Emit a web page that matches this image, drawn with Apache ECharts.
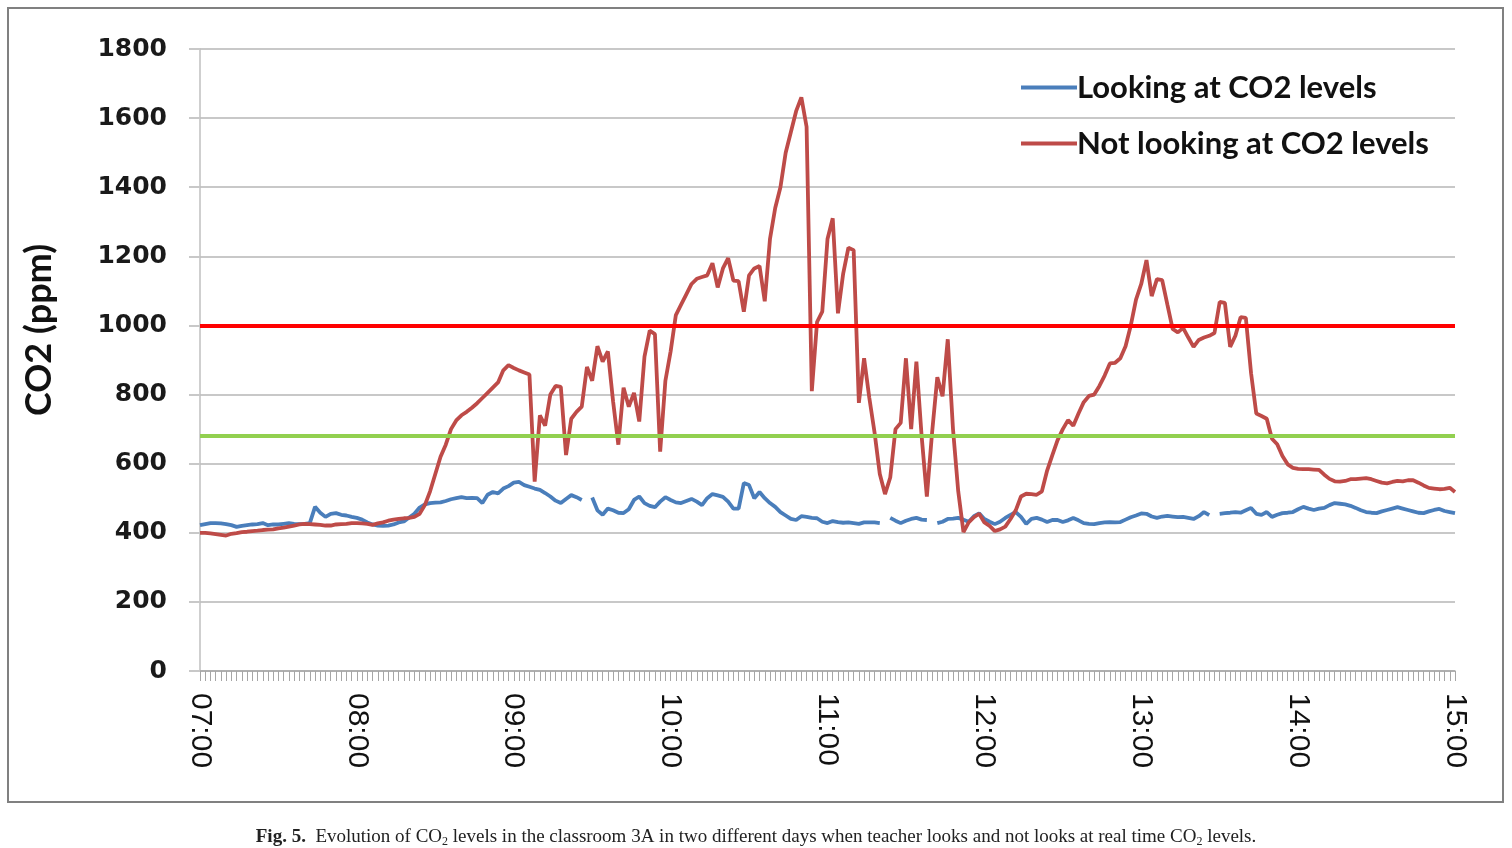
<!DOCTYPE html>
<html>
<head>
<meta charset="utf-8">
<script src="https://cdn.jsdelivr.net/npm/echarts@6/dist/echarts.min.js"></script>
<style>
html,body{margin:0;padding:0;background:#fff;}
#chart{width:1512px;height:848px;}
</style>
</head>
<body>
<div id="chart"></div>
<script>
// ---- data ----
const startTime = '07:00';
const endTime = '15:00';
const stepMinutes = 2;
const yTicks = [0, 200, 400, 600, 800, 1000, 1200, 1400, 1600, 1800];
const seriesNames = ['Looking at CO2 levels', 'Not looking at CO2 levels'];
const limitHigh = 1000;
const limitLow = 680;

const looking = [
422,425,428,428,427,425,422,417,420,422,
424,425,428,422,424,424,426,428,426,425,
426,428,475,458,446,455,457,452,450,446,
443,438,430,424,421,420,421,424,430,433,
444,455,473,482,486,487,488,492,497,500,
503,500,501,500,486,510,518,514,528,535,
545,547,538,533,528,524,515,505,493,486,
498,509,503,495,null,502,465,452,470,465,
458,457,468,495,505,486,478,474,490,503,
495,488,486,492,498,490,480,500,512,508,
504,490,470,470,544,538,500,518,500,486,
475,460,450,440,437,448,446,443,442,432,
428,434,431,429,430,428,426,430,430,430,
428,null,443,435,428,435,440,443,438,437,
null,428,432,440,441,443,438,432,448,456,
440,432,425,432,443,452,460,446,426,440,
443,438,431,437,437,431,436,443,436,428,
426,425,428,430,431,430,431,438,445,450,
456,455,447,443,447,449,447,445,446,443,
440,448,460,451,null,455,457,458,460,458,
465,472,455,452,460,446,452,457,458,460,
468,475,470,466,470,472,480,486,484,482,
478,472,465,460,458,457,462,466,470,474,
470,466,462,458,457,462,466,469,463,460,
457
];

const notLooking = [
400,400,398,396,394,392,397,399,402,403,
405,406,408,409,410,413,415,418,421,424,
426,425,424,423,421,421,424,425,426,428,
428,427,426,423,427,430,435,438,440,442,
443,446,455,480,520,570,620,655,700,725,
740,750,762,775,790,805,820,835,870,885,
877,870,864,858,548,740,710,800,825,822,
625,730,750,765,880,840,940,895,925,780,
655,820,765,805,722,910,985,975,635,840,
925,1030,1060,1090,1120,1135,1140,1145,1180,1110,
1165,1195,1130,1128,1040,1145,1165,1172,1070,1250,
1340,1400,1500,1560,1620,1660,1575,810,1010,1040,
1250,1310,1035,1150,1225,1218,776,905,790,690,
570,512,560,700,718,905,700,895,680,505,
690,850,795,960,700,520,402,430,445,455,
430,420,405,410,418,440,465,505,513,512,
510,520,580,625,668,700,726,710,745,778,
796,800,825,855,890,892,905,940,1000,1075,
1120,1189,1085,1134,1131,1060,990,980,993,965,
938,958,965,970,978,1068,1065,938,970,1024,
1022,862,745,738,730,672,656,622,598,588,
585,584,584,583,582,568,556,549,548,550,
555,555,557,558,555,550,545,543,547,550,
549,552,552,545,537,530,528,526,527,530,
518
];

// ---- build categories (time labels every 2 minutes) ----
function toMin(t){const p=t.split(':');return (+p[0])*60+(+p[1]);}
function toLabel(m){const h=Math.floor(m/60),mm=m%60;return (h<10?'0':'')+h+':'+(mm<10?'0':'')+mm;}
const categories=[];
for(let m=toMin(startTime);m<=toMin(endTime);m+=stepMinutes){categories.push(toLabel(m));}

const chart = echarts.init(document.getElementById('chart'));
chart.setOption({
  animation:false,
  backgroundColor:'#ffffff',
  grid:{left:200,right:57,top:49,bottom:177,containLabel:false},
  legend:{
    data:seriesNames,
    orient:'vertical',
    left:1016,
    top:67,
    itemWidth:56,
    itemHeight:4,
    itemGap:25,
    icon:'rect',
    textStyle:{fontFamily:'Lato',fontWeight:'bold',fontSize:31,color:'#111',lineHeight:30,padding:[0,0,0,-5]}
  },
  xAxis:{
    type:'category',
    data:categories,
    boundaryGap:false,
    axisLine:{lineStyle:{color:'#a6a6a6',width:1.5}},
    axisTick:{show:true,interval:0,length:10,lineStyle:{color:'#a6a6a6',width:1}},
    axisLabel:{interval:29,rotate:-90,margin:22,fontFamily:'Liberation Sans',fontSize:30,color:'#111'},
    splitLine:{show:false}
  },
  yAxis:{
    type:'value',
    min:yTicks[0],
    max:yTicks[yTicks.length-1],
    interval:yTicks[1]-yTicks[0],
    name:'CO2 (ppm)',
    nameLocation:'middle',
    nameGap:143,
    nameTextStyle:{fontFamily:'Lato',fontWeight:'bold',fontSize:36,color:'#111',padding:[0,0,0,60]},
    axisLine:{show:true,lineStyle:{color:'#bfbfbf',width:1.5}},
    axisTick:{show:true,length:11,lineStyle:{color:'#c8c8c8',width:2}},
    axisLabel:{margin:33,fontFamily:'DejaVu Sans',fontWeight:'bold',fontSize:25,color:'#1a1a1a',
      formatter:function(v){return String(v);}},
    splitLine:{lineStyle:{color:'#c8c8c8',width:2}}
  },
  series:[
    {name:seriesNames[0],type:'line',data:looking,showSymbol:false,symbol:'none',connectNulls:false,
     lineStyle:{color:'#4a7ebb',width:3.8},itemStyle:{color:'#4a7ebb'}},
    {name:seriesNames[1],type:'line',data:notLooking,showSymbol:false,symbol:'none',
     lineStyle:{color:'#be4b48',width:3.8},itemStyle:{color:'#be4b48'}},
    {name:'limits',type:'line',data:[],silent:true,
     markLine:{silent:true,symbol:'none',label:{show:false},animation:false,
       data:[
         {yAxis:limitHigh,lineStyle:{color:'#ff0000',width:4,type:'solid'}},
         {yAxis:limitLow,lineStyle:{color:'#92d050',width:4,type:'solid'}}
       ]}}
  ],
  graphic:[
    {type:'rect',shape:{x:8,y:8,width:1495,height:794},style:{fill:'none',stroke:'#808080',lineWidth:2},z:-1},
    {type:'text',left:'center',top:828,
     style:{
       text:'{b|Fig. 5.}  Evolution of CO{s|2} levels in the classroom 3A in two different days when teacher looks and not looks at real time CO{s|2} levels.',
       fontFamily:'Liberation Serif',fontSize:19,fill:'#222',
       rich:{b:{fontFamily:'Liberation Serif',fontWeight:'bold',fontSize:19,fill:'#222'},
             s:{fontFamily:'Liberation Serif',fontSize:12,fill:'#222',padding:[9,0,0,0]}}
     }}
  ]
});
</script>
</body>
</html>
